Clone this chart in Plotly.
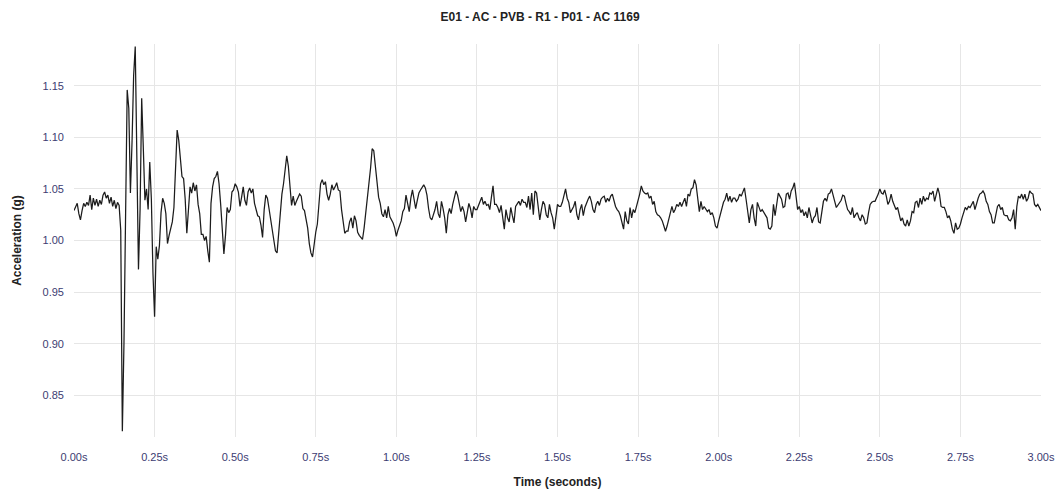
import plotly.graph_objects as go

# Accelerometer trace, sampled every 5 ms (values in g)
SAMPLE_STEP = 0.005

accel_0_to_1s = [
    1.029, 1.033, 1.036, 1.026, 1.020, 1.029, 1.036, 1.033, 1.037, 1.034,
    1.044, 1.030, 1.041, 1.034, 1.040, 1.033, 1.039, 1.035, 1.044, 1.047,
    1.041, 1.044, 1.036, 1.042, 1.033, 1.039, 1.031, 1.037, 1.034, 1.010,
    0.815, 0.900, 1.040, 1.146, 1.128, 1.046, 1.095, 1.160, 1.188, 1.100,
    0.972, 1.030, 1.138, 1.090, 1.039, 1.050, 1.030, 1.076, 1.040, 0.968,
    0.926, 0.994, 0.982, 0.995, 1.027, 1.041, 1.036, 1.026, 0.997, 1.005,
    1.013, 1.018, 1.032, 1.068, 1.107, 1.097, 1.080, 1.062, 1.060, 1.040,
    1.007, 1.035, 1.052, 1.046, 1.056, 1.048, 1.054, 1.035, 1.026, 1.006,
    1.006, 1.000, 1.004, 0.990, 0.979, 1.036, 1.052, 1.060, 1.062, 1.067,
    1.055, 1.035, 1.005, 0.987, 1.005, 1.032, 1.027, 1.030, 1.047, 1.049,
    1.055, 1.052, 1.047, 1.033, 1.042, 1.052, 1.039, 1.034, 1.047, 1.051,
    1.046, 1.050, 1.036, 1.029, 1.024, 1.023, 1.015, 1.003, 1.030, 1.044,
    1.041, 1.031, 1.020, 1.012, 1.000, 0.990, 0.988, 1.008, 1.030, 1.045,
    1.055, 1.072, 1.082, 1.072, 1.050, 1.034, 1.043, 1.034, 1.038, 1.042,
    1.045, 1.043, 1.031, 1.029, 1.022, 1.012, 0.997, 0.988, 0.984, 0.998,
    1.008, 1.016, 1.033, 1.055, 1.059, 1.054, 1.057, 1.045, 1.039, 1.045,
    1.054, 1.049, 1.052, 1.056, 1.049, 1.048, 1.030, 1.015, 1.007, 1.009,
    1.009, 1.018, 1.022, 1.012, 1.024, 1.019, 1.008, 1.005, 1.003, 1.001,
    1.012, 1.025, 1.038, 1.057, 1.070, 1.089, 1.087, 1.072, 1.057, 1.042,
    1.036, 1.026, 1.023, 1.030, 1.022, 1.033, 1.023, 1.020, 1.017, 1.012,
]

accel_1_to_2s = [
    1.004, 1.010, 1.014, 1.019, 1.028, 1.031, 1.044, 1.035, 1.028, 1.041,
    1.049, 1.040, 1.031, 1.039, 1.046, 1.049, 1.052, 1.054, 1.051, 1.044,
    1.031, 1.022, 1.020, 1.025, 1.030, 1.038, 1.026, 1.022, 1.038, 1.031,
    1.022, 1.007, 1.025, 1.031, 1.026, 1.035, 1.041, 1.048, 1.044, 1.036,
    1.028, 1.033, 1.028, 1.018, 1.028, 1.036, 1.031, 1.022, 1.033, 1.030,
    1.030, 1.035, 1.038, 1.042, 1.035, 1.038, 1.034, 1.035, 1.030, 1.042,
    1.053, 1.035, 1.035, 1.032, 1.027, 1.034, 1.022, 1.011, 1.030, 1.022,
    1.018, 1.032, 1.024, 1.017, 1.033, 1.035, 1.038, 1.034, 1.040, 1.037,
    1.037, 1.032, 1.043, 1.030, 1.046, 1.025, 1.048, 1.046, 1.030, 1.020,
    1.030, 1.038, 1.035, 1.025, 1.022, 1.035, 1.027, 1.022, 1.011, 1.022,
    1.035, 1.033, 1.033, 1.037, 1.043, 1.050, 1.041, 1.037, 1.027, 1.030,
    1.033, 1.038, 1.025, 1.020, 1.030, 1.035, 1.024, 1.032, 1.037, 1.040,
    1.043, 1.038, 1.030, 1.027, 1.035, 1.038, 1.034, 1.040, 1.042, 1.043,
    1.037, 1.041, 1.038, 1.043, 1.045, 1.038, 1.033, 1.030, 1.028, 1.024,
    1.017, 1.011, 1.028, 1.019, 1.016, 1.032, 1.022, 1.030, 1.027, 1.033,
    1.037, 1.045, 1.053, 1.048, 1.046, 1.045, 1.046, 1.041, 1.043, 1.035,
    1.038, 1.028, 1.025, 1.024, 1.022, 1.019, 1.014, 1.009, 1.014, 1.020,
    1.025, 1.033, 1.027, 1.030, 1.035, 1.033, 1.037, 1.033, 1.037, 1.041,
    1.033, 1.045, 1.043, 1.050, 1.051, 1.059, 1.054, 1.040, 1.028, 1.038,
    1.030, 1.033, 1.030, 1.028, 1.030, 1.025, 1.027, 1.022, 1.014, 1.012,
]

accel_2_to_3s = [
    1.019, 1.025, 1.032, 1.037, 1.040, 1.046, 1.038, 1.043, 1.037, 1.041,
    1.041, 1.038, 1.040, 1.045, 1.043, 1.048, 1.051, 1.040, 1.030, 1.017,
    1.030, 1.035, 1.022, 1.014, 1.037, 1.033, 1.028, 1.030, 1.027, 1.024,
    1.022, 1.012, 1.011, 1.014, 1.035, 1.024, 1.035, 1.046, 1.043, 1.040,
    1.032, 1.033, 1.045, 1.046, 1.040, 1.048, 1.051, 1.056, 1.043, 1.030,
    1.033, 1.027, 1.030, 1.024, 1.028, 1.022, 1.032, 1.025, 1.017, 1.022,
    1.024, 1.032, 1.018, 1.017, 1.027, 1.038, 1.041, 1.038, 1.045, 1.046,
    1.050, 1.045, 1.038, 1.032, 1.034, 1.037, 1.039, 1.044, 1.043, 1.036,
    1.030, 1.028, 1.025, 1.032, 1.022, 1.025, 1.027, 1.022, 1.019, 1.025,
    1.022, 1.016, 1.017, 1.027, 1.035, 1.037, 1.038, 1.038, 1.041, 1.045,
    1.050, 1.046, 1.045, 1.049, 1.043, 1.035, 1.038, 1.045, 1.038, 1.033,
    1.030, 1.032, 1.025, 1.019, 1.022, 1.016, 1.014, 1.020, 1.014, 1.019,
    1.028, 1.027, 1.037, 1.038, 1.032, 1.041, 1.035, 1.043, 1.038, 1.041,
    1.040, 1.046, 1.045, 1.048, 1.038, 1.046, 1.051, 1.045, 1.033, 1.032,
    1.032, 1.028, 1.022, 1.024, 1.019, 1.011, 1.007, 1.017, 1.011, 1.012,
    1.016, 1.022, 1.028, 1.032, 1.030, 1.033, 1.032, 1.035, 1.038, 1.030,
    1.037, 1.041, 1.045, 1.046, 1.048, 1.045, 1.038, 1.035, 1.028, 1.025,
    1.017, 1.017, 1.025, 1.033, 1.035, 1.030, 1.032, 1.025, 1.024, 1.024,
    1.020, 1.019, 1.022, 1.030, 1.011, 1.033, 1.043, 1.041, 1.045, 1.040,
    1.045, 1.038, 1.041, 1.048, 1.046, 1.045, 1.035, 1.033, 1.035, 1.032,
    1.029,
]

x_tick_values = [0.0, 0.25, 0.5, 0.75, 1.0, 1.25, 1.5, 1.75, 2.0, 2.25, 2.5, 2.75, 3.0]
x_tick_labels = ["0.00s", "0.25s", "0.50s", "0.75s", "1.00s", "1.25s", "1.50s",
                 "1.75s", "2.00s", "2.25s", "2.50s", "2.75s", "3.00s"]
y_tick_values = [0.85, 0.90, 0.95, 1.00, 1.05, 1.10, 1.15]
y_tick_labels = ["0.85", "0.90", "0.95", "1.00", "1.05", "1.10", "1.15"]

accel = accel_0_to_1s + accel_1_to_2s + accel_2_to_3s
time_s = [round(i * SAMPLE_STEP, 3) for i in range(len(accel))]

FONT = "Liberation Sans, Arial, sans-serif"
TICK_COLOR = "#3c3c72"
GRID_COLOR = "#e6e6e6"

fig = go.Figure(
    go.Scatter(
        x=time_s,
        y=accel,
        mode="lines",
        line=dict(color="#1c1c1c", width=1.25),
        hoverinfo="x+y",
        showlegend=False,
    )
)

fig.update_layout(
    width=1061,
    height=495,
    margin=dict(l=74, r=20, t=44, b=58),
    paper_bgcolor="white",
    plot_bgcolor="white",
    font=dict(family=FONT, size=11, color="#222222"),
    title=dict(
        text="<b>E01 - AC - PVB - R1 - P01 - AC 1169</b>",
        x=0.509,
        xanchor="center",
        y=1 - 17 / 495,
        yanchor="middle",
        yref="container",
        font=dict(family=FONT, size=12, color="#222222"),
    ),
)

fig.update_xaxes(
    range=[0, 3],
    automargin=False,
    tickvals=x_tick_values,
    ticktext=x_tick_labels,
    showgrid=True,
    gridcolor=GRID_COLOR,
    gridwidth=1,
    zeroline=False,
    showline=False,
    ticks="",
    ticklabelstandoff=12,
    tickfont=dict(family=FONT, size=11, color=TICK_COLOR),
    title=dict(
        text="<b>Time (seconds)</b>",
        font=dict(family=FONT, size=12, color="#222222"),
        standoff=15,
    ),
)

fig.update_yaxes(
    range=[0.8095, 1.1905],
    automargin=False,
    tickvals=y_tick_values,
    ticktext=y_tick_labels,
    showgrid=True,
    gridcolor=GRID_COLOR,
    gridwidth=1,
    zeroline=False,
    showline=False,
    ticks="",
    ticklabelstandoff=9,
    tickfont=dict(family=FONT, size=11, color=TICK_COLOR),
    title=dict(
        text="<b>Acceleration (g)</b>",
        font=dict(family=FONT, size=12, color="#222222"),
        standoff=18,
    ),
)

fig.write_html("out.html")
